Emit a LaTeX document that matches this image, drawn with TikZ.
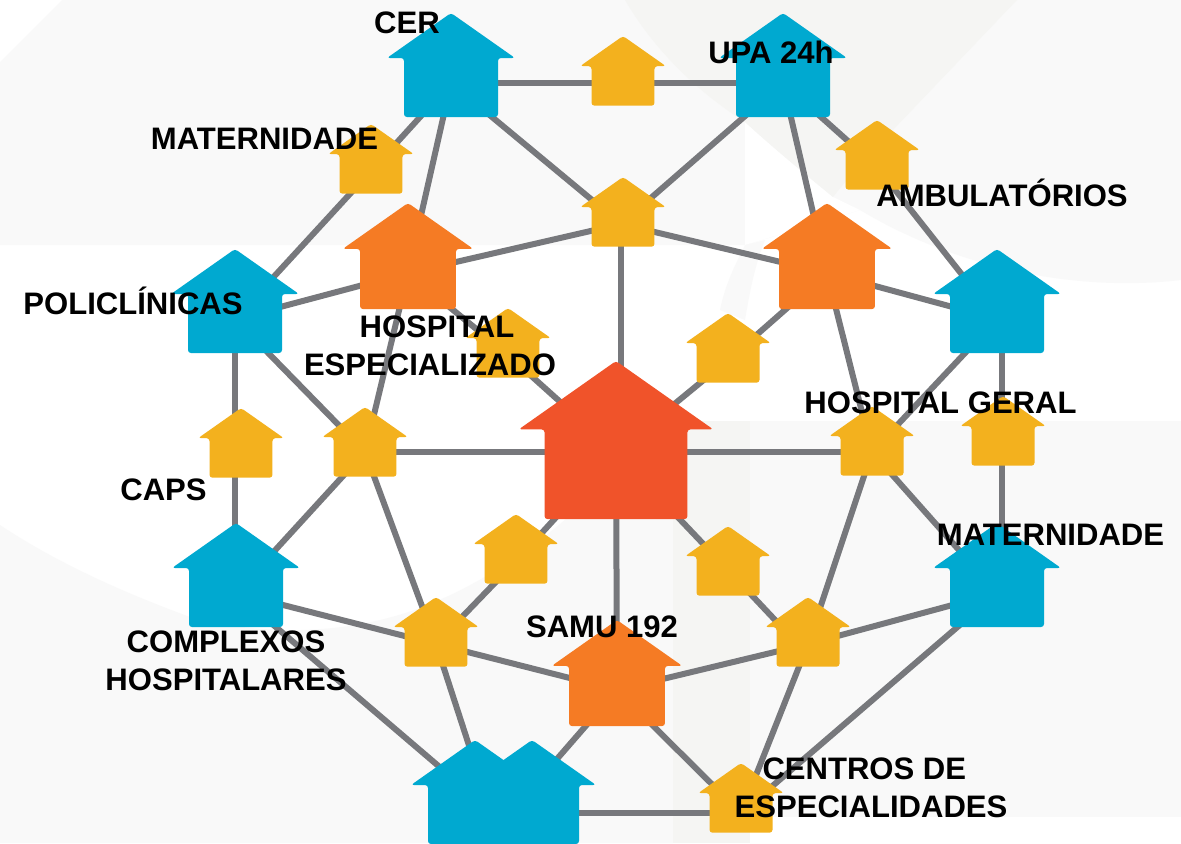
\documentclass[tikz,border=0pt]{standalone}
\usepackage{fontspec}
\setmainfont{Liberation Sans}
\definecolor{hblue}{HTML}{00A9D0}
\definecolor{horange}{HTML}{F57B24}
\definecolor{hyellow}{HTML}{F3B11E}
\definecolor{hred}{HTML}{F0532A}
\definecolor{link}{HTML}{77787C}
\definecolor{bglight}{HTML}{F9F9F9}
\definecolor{bgdark}{HTML}{F5F5F3}
\tikzset{
  edge/.style={draw=link,line width=4.5pt},
  lbl/.style={font=\fontsize{23.3}{28.5}\selectfont\bfseries,text=black,inner sep=0pt,align=center}
}
\begin{document}
\begin{tikzpicture}[x=0.75pt,y=-0.75pt]
\clip (0,0) rectangle (1181,843);
% background
\fill[white] (0,0) rectangle (1181,843);
\fill[bglight] (0,62) -- (62,0) -- (1181,0) -- (1181,280) .. controls (1080,292) and (960,270) .. (860,210) -- (745,245) -- (0,245) -- cycle;
\fill[white] (745,122) .. controls (770,145) and (800,170) .. (833,197) -- (860,210) -- (745,245) -- cycle;
\fill[bgdark] (625,0) .. controls (660,60) and (710,100) .. (745,122) -- (745,0) -- cycle;
\fill[bgdark] (745,0) -- (1017,0) -- (893,130) .. controls (875,150) and (850,175) .. (833,197) .. controls (800,170) and (770,145) .. (745,122) -- cycle;
\fill[bglight] (745,245) .. controls (735,265) and (725,285) .. (720,310) -- (745,320) .. controls (750,290) and (755,265) .. (765,240) -- cycle;
\fill[bglight] (0,525) .. controls (60,565) and (130,595) .. (190,617) .. controls (280,640) and (360,630) .. (420,608) .. controls (480,585) and (530,550) .. (567,518) .. controls (610,490) and (650,450) .. (673,421) -- (673,843) -- (0,843) -- cycle;
\fill[bgdark] (673,421) -- (750,421) -- (750,843) -- (673,843) -- cycle;
\fill[bglight] (750,421) -- (1181,421) -- (1181,817) -- (750,817) -- cycle;
% positions: name/x/top/scale/colour/centre y
\def\houselist{B1/451/13/1/hblue/83, B2/783/13/1/hblue/83, B3/235/249/1/hblue/319, B4/997/249/1/hblue/319,
 B5/236/523/1/hblue/593, B6/997/523/1/hblue/593, B7/475/740/1/hblue/810, B8/532/740/1/hblue/813,
 O1/408/203/1.02/horange/273, O2/827/203/1.02/horange/273, O3/617/620/1.02/horange/690,
 Y1/623/36/0.67/hyellow/83, Y2/371/124/0.67/hyellow/171, Y3/877/120/0.67/hyellow/167, Y4/623/177/0.67/hyellow/224,
 Y5/508/308/0.67/hyellow/355, Y6/728/313/0.67/hyellow/360, Y7/241/408/0.67/hyellow/455, Y8/365/407/0.67/hyellow/452,
 Y9/872/406/0.67/hyellow/452, Y10/1003/396/0.67/hyellow/443, Y11/516/514/0.67/hyellow/561, Y12/728/526/0.67/hyellow/570,
 Y13/436/597/0.67/hyellow/644, Y14/808/597/0.67/hyellow/644, Y15/741/763/0.67/hyellow/813,
 R/616/361/1.52/hred/452}
\foreach \n/\x/\t/\s/\c/\m in \houselist { \coordinate (\n) at (\x,\m); }
\coordinate (B7) at (490,810);
\coordinate (B8) at (510,813);
\coordinate (Y7) at (235,455);
\coordinate (Y10) at (1002,443);
\coordinate (Y4) at (621,224);
\coordinate (RN) at (621,452);
\coordinate (B3S) at (235,319);
\coordinate (B5N) at (235,593);
\coordinate (B4S) at (1002,319);
\coordinate (B6N) at (1002,593);
\coordinate (Y14N) at (808,655);
% connectors
\foreach \a/\b in {B1/Y1,Y1/B2,B1/Y2,Y2/B3,B1/O1,B1/Y4,B2/Y4,B2/O2,B2/Y3,Y3/B4,Y4/O1,Y4/O2,Y4/RN,O1/B3,O2/B4,
 O1/Y5,Y5/R,O1/Y8,B3/Y8,B3S/Y7,Y7/B5N,Y8/B5,Y8/R,Y8/Y13,O2/Y6,Y6/R,O2/Y9,B4/Y9,B4S/Y10,Y10/B6N,Y9/R,Y9/B6,Y9/Y14,
 R/O3,R/Y11,Y11/Y13,R/Y12,Y12/Y14N,B5/Y13,B5/B7,Y13/O3,Y13/B7,Y14/O3,Y14/B6,Y14/Y15,B6/Y15,O3/B8,O3/Y15,B8/Y15}
 { \draw[edge] (\a) -- (\b); }
% houses
\foreach \n/\x/\t/\s/\c/\m in \houselist {
 \fill[\c,rounded corners=2.2pt,shift={(\x,\t)},scale=\s]
   (0,0) -- (64,45) -- (47,45) -- (47,104) -- (-47,104) -- (-47,45) -- (-64,45) -- cycle;
}
% labels
\node[lbl] (tCER) at (407,23) {CER};
\node[lbl] (tUPA) at (771,52) {UPA 24h};
\node[lbl] (tMAT1) at (264.5,139) {MATERNIDADE};
\node[lbl] (tAMB) at (1002,193) {AMBULATÓRIOS};
\node[lbl] (tPOL) at (133,301) {POLICLÍNICAS};
\node[lbl] (tESP) at (430,346) {\hspace*{10.5pt}HOSPITAL\\ESPECIALIZADO};
\node[lbl] (tGER) at (940.5,403) {HOSPITAL GERAL};
\node[lbl] (tCAPS) at (163.5,490) {CAPS};
\node[lbl] (tMAT2) at (1050.5,535) {MATERNIDADE};
\node[lbl] (tCOM) at (226,661) {COMPLEXOS\\HOSPITALARES};
\node[lbl] (tSAMU) at (602,627) {SAMU 192};
\node[lbl] (tCEN) at (871,788) {CENTROS DE\hspace*{10pt}\\ESPECIALIDADES};
\end{tikzpicture}
\end{document}
